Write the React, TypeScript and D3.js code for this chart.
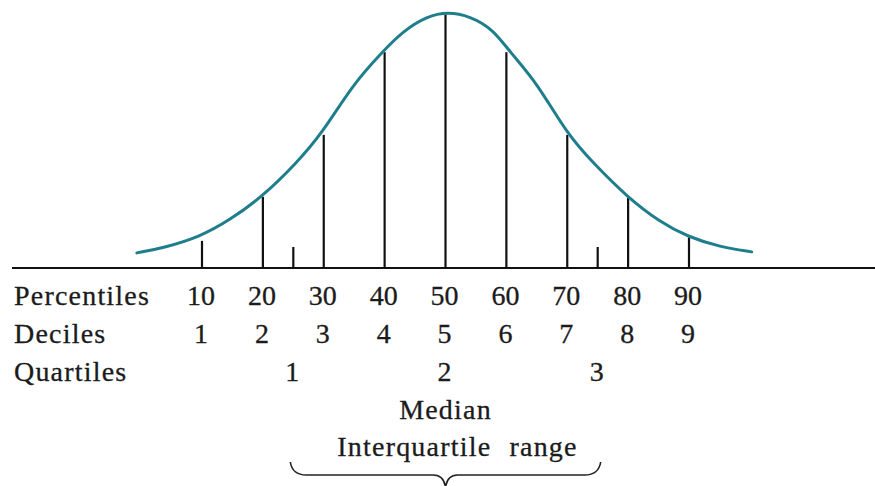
import { useEffect, useRef } from 'react';
import * as d3 from 'd3';

// curve: position in percentile units, height as fraction of the peak
const curvePct = [-0.7, 3.6, 9.7, 14.6, 19.9, 25.6, 29.7, 34.8, 39.6, 43.0, 47.0, 50.4, 54.0, 57.8, 60.6, 65.0, 70.0, 74.2, 79.8, 85.2, 89.8, 95.1, 100.3];
const curveHeight = [0.059, 0.078, 0.122, 0.188, 0.278, 0.412, 0.525, 0.718, 0.843, 0.925, 0.984, 1.0, 0.984, 0.933, 0.843, 0.725, 0.522, 0.412, 0.278, 0.18, 0.122, 0.082, 0.063];

// vertical marker lines
const markerPct = [10, 20, 25, 30, 40, 50, 60, 70, 75, 80, 90];
const markerHeight = [0.106, 0.278, 0.082, 0.52, 0.843, 0.99, 0.843, 0.52, 0.082, 0.275, 0.12];

const percentileTicks = [10, 20, 30, 40, 50, 60, 70, 80, 90];
const percentileLabels = ['10', '20', '30', '40', '50', '60', '70', '80', '90'];
const decileLabels = ['1', '2', '3', '4', '5', '6', '7', '8', '9'];
const quartileTicks = [25, 50, 75];
const quartileLabels = ['1', '2', '3'];

const rowLabels = ['Percentiles', 'Deciles', 'Quartiles'];

export default function App() {
  const svgRef = useRef<SVGSVGElement>(null);

  useEffect(() => {
    if (!svgRef.current) return;
    const svg = d3.select(svgRef.current);
    svg.selectAll('*').remove();

    const width = 875;
    const baseY = 268;

    const x = d3.scaleLinear().domain([10, 90]).range([202, 689]);
    const y = d3.scaleLinear().domain([0, 1]).range([baseY, 12]);

    svg.append('rect').attr('width', width).attr('height', 486).attr('fill', '#fff');

    // baseline
    svg.append('line')
      .attr('x1', 12).attr('x2', width)
      .attr('y1', baseY).attr('y2', baseY)
      .attr('stroke', '#111').attr('stroke-width', 2);

    // marker lines
    svg.selectAll('.marker')
      .data(markerPct)
      .enter().append('line')
      .attr('class', 'marker')
      .attr('x1', d => x(d)).attr('x2', d => x(d))
      .attr('y1', baseY)
      .attr('y2', (d, i) => y(markerHeight[i]))
      .attr('stroke', '#111').attr('stroke-width', 2.2);

    // curve
    const line = d3.line<number>()
      .x(d => x(d))
      .y((d, i) => y(curveHeight[i]))
      .curve(d3.curveBasis);

    svg.append('path')
      .datum(curvePct)
      .attr('d', line)
      .attr('fill', 'none')
      .attr('stroke', '#1f7e8b')
      .attr('stroke-width', 3)
      .attr('stroke-linecap', 'round');

    const font = '"Liberation Serif", "DejaVu Serif", serif';
    const ink = '#1b1b1b';
    const rowY = [305, 343, 381];

    const styleText = (sel: any) => sel
      .attr('font-family', font).attr('font-size', 28)
      .attr('fill', ink)
      .attr('stroke', ink).attr('stroke-width', 0.3);

    svg.selectAll('.rowlabel')
      .data(rowLabels)
      .enter().append('text')
      .attr('x', 14)
      .attr('y', (d, i) => rowY[i])
      .call(styleText)
      .attr('letter-spacing', 1.2)
      .text(d => d);

    const addRow = (ticks: number[], labels: string[], yy: number) => {
      svg.append('g').selectAll('text')
        .data(ticks)
        .enter().append('text')
        .attr('x', d => x(d) - 1)
        .attr('y', yy)
        .attr('text-anchor', 'middle')
        .call(styleText)
        .text((d, i) => labels[i]);
    };
    addRow(percentileTicks, percentileLabels, rowY[0]);
    addRow(percentileTicks, decileLabels, rowY[1]);
    addRow(quartileTicks, quartileLabels, rowY[2]);

    svg.append('text')
      .attr('x', x(50)).attr('y', 419)
      .attr('text-anchor', 'middle')
      .call(styleText)
      .attr('letter-spacing', 1.2)
      .text('Median');

    svg.append('text')
      .attr('x', x(50) + 12).attr('y', 456)
      .attr('text-anchor', 'middle')
      .call(styleText)
      .attr('letter-spacing', 1.2)
      .attr('word-spacing', 10)
      .text('Interquartile range');

    // brace under the interquartile range
    const bl = x(25) - 3, br = x(75) + 3, bm = x(50);
    const top = 462, mid = 475, tip = 487;
    const p = d3.path();
    p.moveTo(bl, top);
    p.quadraticCurveTo(bl + 2, mid, bl + 16, mid);
    p.lineTo(bm - 12, mid);
    p.quadraticCurveTo(bm - 2, mid, bm, tip);
    p.quadraticCurveTo(bm + 2, mid, bm + 12, mid);
    p.lineTo(br - 16, mid);
    p.quadraticCurveTo(br - 2, mid, br, top);
    svg.append('path')
      .attr('d', p.toString())
      .attr('fill', 'none')
      .attr('stroke', '#222').attr('stroke-width', 1.6);
  }, []);

  return (
    <svg
      ref={svgRef}
      width={875}
      height={486}
      style={{ position: 'absolute', left: 0, top: 0, display: 'block' }}
    />
  );
}
